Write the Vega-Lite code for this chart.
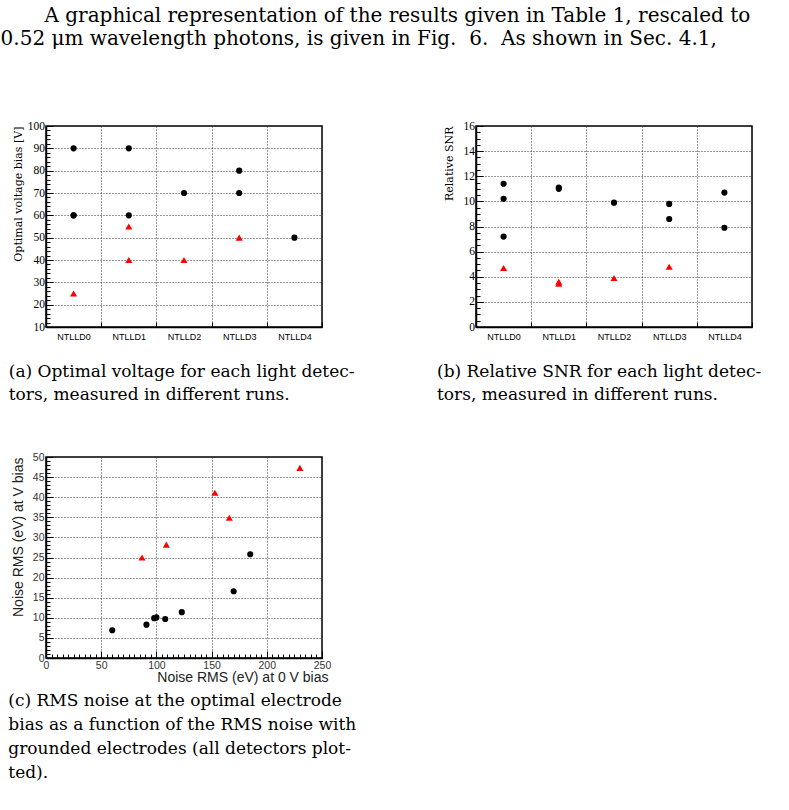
{
  "$schema": "https://vega.github.io/schema/vega-lite/v6.json",
  "background": "white",
  "padding": {"left": 0, "top": 5, "right": 0, "bottom": 0},
  "autosize": {"type": "pad"},
  "title": {
    "text": [
      "\u2800\u2800\u2800A graphical representation of the results given in Table 1, rescaled to",
      "0.52 \u03bcm wavelength photons, is given in Fig.\u00a0\u00a06.\u00a0\u00a0As shown in Sec. 4.1,"
    ],
    "anchor": "start",
    "frame": "bounds",
    "fontSize": 20,
    "lineHeight": 23.5,
    "offset": 70,
    "dx": -7
  },
  "columns": 2,
  "align": "each",
  "bounds": "full",
  "spacing": {"row": 47, "column": 78},
  "datasets": {
    "bias": [
      {"detector": "NTLLD0", "run": "run 1", "bias": 90},
      {"detector": "NTLLD0", "run": "run 1", "bias": 60},
      {"detector": "NTLLD0", "run": "run 1", "bias": 60},
      {"detector": "NTLLD0", "run": "run 2", "bias": 25},
      {"detector": "NTLLD1", "run": "run 1", "bias": 90},
      {"detector": "NTLLD1", "run": "run 1", "bias": 60},
      {"detector": "NTLLD1", "run": "run 2", "bias": 55},
      {"detector": "NTLLD1", "run": "run 2", "bias": 40},
      {"detector": "NTLLD2", "run": "run 1", "bias": 70},
      {"detector": "NTLLD2", "run": "run 2", "bias": 40},
      {"detector": "NTLLD3", "run": "run 1", "bias": 80},
      {"detector": "NTLLD3", "run": "run 1", "bias": 70},
      {"detector": "NTLLD3", "run": "run 2", "bias": 50},
      {"detector": "NTLLD4", "run": "run 1", "bias": 50}
    ],
    "snr": [
      {"detector": "NTLLD0", "run": "run 1", "snr": 11.4},
      {"detector": "NTLLD0", "run": "run 1", "snr": 10.2},
      {"detector": "NTLLD0", "run": "run 1", "snr": 7.2},
      {"detector": "NTLLD0", "run": "run 2", "snr": 4.7},
      {"detector": "NTLLD1", "run": "run 1", "snr": 11.0},
      {"detector": "NTLLD1", "run": "run 1", "snr": 11.1},
      {"detector": "NTLLD1", "run": "run 2", "snr": 3.6},
      {"detector": "NTLLD1", "run": "run 2", "snr": 3.45},
      {"detector": "NTLLD2", "run": "run 1", "snr": 9.9},
      {"detector": "NTLLD2", "run": "run 2", "snr": 3.9},
      {"detector": "NTLLD3", "run": "run 1", "snr": 9.8},
      {"detector": "NTLLD3", "run": "run 1", "snr": 8.6},
      {"detector": "NTLLD3", "run": "run 2", "snr": 4.8},
      {"detector": "NTLLD4", "run": "run 1", "snr": 10.7},
      {"detector": "NTLLD4", "run": "run 1", "snr": 7.9}
    ],
    "noise": [
      {"run": "run 1", "noise0": 60, "noiseV": 6.9},
      {"run": "run 1", "noise0": 91, "noiseV": 8.3},
      {"run": "run 1", "noise0": 98, "noiseV": 9.9},
      {"run": "run 1", "noise0": 100, "noiseV": 10.1},
      {"run": "run 1", "noise0": 108, "noiseV": 9.7},
      {"run": "run 1", "noise0": 123, "noiseV": 11.4},
      {"run": "run 1", "noise0": 170, "noiseV": 16.6},
      {"run": "run 1", "noise0": 185, "noiseV": 25.8},
      {"run": "run 2", "noise0": 87, "noiseV": 25.0},
      {"run": "run 2", "noise0": 109, "noiseV": 28.2},
      {"run": "run 2", "noise0": 153, "noiseV": 41.1},
      {"run": "run 2", "noise0": 166, "noiseV": 34.9},
      {"run": "run 2", "noise0": 230, "noiseV": 47.3}
    ]
  },
  "concat": [
    {
      "width": 276,
      "height": 201,
      "data": {"name": "bias"},
      "title": {
        "text": ["(a) Optimal voltage for each light detec-", "tors, measured in different runs."],
        "orient": "bottom", "anchor": "start", "frame": "bounds",
        "fontSize": 17, "lineHeight": 23, "offset": 23, "dx": -3.5
      },
      "layer": [
        {
          "mark": {"type": "point", "filled": true, "opacity": 1, "strokeWidth": 0},
          "encoding": {
            "x": {
              "field": "detector", "type": "nominal", "sort": null,
              "scale": {"type": "band", "paddingInner": 0, "paddingOuter": 0, "domain": ["NTLLD0", "NTLLD1", "NTLLD2", "NTLLD3", "NTLLD4"]},
              "axis": {"title": null, "tickBand": "extent", "labelFont": "Liberation Sans", "labelFontSize": 9, "labelColor": "black", "labelAngle": 0, "tickSize": -5, "labelPadding": 10, "grid": true}
            },
            "y": {
              "field": "bias", "type": "quantitative",
              "scale": {"domain": [10, 100], "nice": false, "zero": false},
              "axis": {
                "values": [10, 20, 30, 40, 50, 60, 70, 80, 90, 100],
                "title": "Optimal voltage bias [V]", "titleFont": "DejaVu Serif", "titleFontSize": 11, "titleFontWeight": "normal", "titleColor": "black", "titleAnchor": "end", "titlePadding": 4,
                "labelFont": "Liberation Serif", "labelFontSize": 11.5, "labelColor": "black", "tickSize": -7, "labelPadding": 8.5, "grid": true
              }
            },
            "shape": {"field": "run", "type": "nominal", "scale": {"domain": ["run 1", "run 2"], "range": ["circle", "triangle-up"]}, "legend": null},
            "color": {"field": "run", "type": "nominal", "scale": {"domain": ["run 1", "run 2"], "range": ["#000000", "#ff0000"]}, "legend": null},
            "size": {"field": "run", "type": "nominal", "scale": {"domain": ["run 1", "run 2"], "range": [38, 50]}, "legend": null}
          }
        },
        {
          "mark": {"type": "point", "opacity": 0},
          "encoding": {
            "y": {
              "field": "bias", "type": "quantitative",
              "scale": {"domain": [10, 100], "nice": false, "zero": false},
              "axis": {"orient": "left", "values": [12, 14, 16, 18, 22, 24, 26, 28, 32, 34, 36, 38, 42, 44, 46, 48, 52, 54, 56, 58, 62, 64, 66, 68, 72, 74, 76, 78, 82, 84, 86, 88, 92, 94, 96, 98], "labels": false, "grid": false, "domain": false, "title": null, "tickSize": -4}
            }
          }
        }
      ],
      "resolve": {"axis": {"y": "independent"}}
    },
    {
      "width": 276,
      "height": 201,
      "data": {"name": "snr"},
      "title": {
        "text": ["(b) Relative SNR for each light detec-", "tors, measured in different runs."],
        "orient": "bottom", "anchor": "start", "frame": "bounds",
        "fontSize": 17, "lineHeight": 23, "offset": 23, "dx": -6
      },
      "layer": [
        {
          "mark": {"type": "point", "filled": true, "opacity": 1, "strokeWidth": 0},
          "encoding": {
            "x": {
              "field": "detector", "type": "nominal", "sort": null,
              "scale": {"type": "band", "paddingInner": 0, "paddingOuter": 0, "domain": ["NTLLD0", "NTLLD1", "NTLLD2", "NTLLD3", "NTLLD4"]},
              "axis": {"title": null, "tickBand": "extent", "labelFont": "Liberation Sans", "labelFontSize": 9, "labelColor": "black", "labelAngle": 0, "tickSize": -5, "labelPadding": 10, "grid": true}
            },
            "y": {
              "field": "snr", "type": "quantitative",
              "scale": {"domain": [0, 16], "nice": false},
              "axis": {
                "values": [0, 2, 4, 6, 8, 10, 12, 14, 16],
                "title": "Relative SNR", "titleFont": "DejaVu Serif", "titleFontSize": 11, "titleFontWeight": "normal", "titleColor": "black", "titleAnchor": "end", "titlePadding": 9,
                "labelFont": "Liberation Serif", "labelFontSize": 11.5, "labelColor": "black", "tickSize": -7, "labelPadding": 8.5, "grid": true
              }
            },
            "shape": {"field": "run", "type": "nominal", "scale": {"domain": ["run 1", "run 2"], "range": ["circle", "triangle-up"]}, "legend": null},
            "color": {"field": "run", "type": "nominal", "scale": {"domain": ["run 1", "run 2"], "range": ["#000000", "#ff0000"]}, "legend": null},
            "size": {"field": "run", "type": "nominal", "scale": {"domain": ["run 1", "run 2"], "range": [38, 50]}, "legend": null}
          }
        },
        {
          "mark": {"type": "point", "opacity": 0},
          "encoding": {
            "y": {
              "field": "snr", "type": "quantitative",
              "scale": {"domain": [0, 16], "nice": false},
              "axis": {"orient": "left", "values": [0.5, 1, 1.5, 2.5, 3, 3.5, 4.5, 5, 5.5, 6.5, 7, 7.5, 8.5, 9, 9.5, 10.5, 11, 11.5, 12.5, 13, 13.5, 14.5, 15, 15.5], "labels": false, "grid": false, "domain": false, "title": null, "tickSize": -4}
            }
          }
        }
      ],
      "resolve": {"axis": {"y": "independent"}}
    },
    {
      "width": 276,
      "height": 201,
      "data": {"name": "noise"},
      "title": {
        "text": ["(c) RMS noise at the optimal electrode", "bias as a function of the RMS noise with", "grounded electrodes (all detectors plot-", "ted)."],
        "orient": "bottom", "anchor": "start", "frame": "bounds",
        "fontSize": 17, "lineHeight": 24, "offset": 8, "dx": -3
      },
      "layer": [
        {
          "mark": {"type": "point", "filled": true, "opacity": 1, "strokeWidth": 0},
          "encoding": {
            "x": {
              "field": "noise0", "type": "quantitative",
              "scale": {"domain": [0, 250], "nice": false},
              "axis": {
                "values": [0, 50, 100, 150, 200, 250],
                "title": "Noise RMS (eV) at 0 V bias", "titleFont": "Liberation Sans", "titleFontSize": 14, "titleFontWeight": "normal", "titleColor": "#222", "titleAnchor": "end", "titleAlign": "right", "titleX": 282, "titlePadding": 0,
                "labelFont": "Liberation Sans", "labelFontSize": 10.5, "labelColor": "#333", "tickSize": -7, "labelPadding": 9, "grid": true
              }
            },
            "y": {
              "field": "noiseV", "type": "quantitative",
              "scale": {"domain": [0, 50], "nice": false},
              "axis": {
                "values": [0, 5, 10, 15, 20, 25, 30, 35, 40, 45, 50],
                "title": "Noise RMS (eV) at V bias", "titleFont": "Liberation Sans", "titleFontSize": 14, "titleFontWeight": "normal", "titleColor": "#222", "titleAnchor": "end", "titlePadding": 7,
                "labelFont": "Liberation Sans", "labelFontSize": 10.5, "labelColor": "#333", "tickSize": -7, "labelPadding": 9, "grid": true
              }
            },
            "shape": {"field": "run", "type": "nominal", "scale": {"domain": ["run 1", "run 2"], "range": ["circle", "triangle-up"]}, "legend": null},
            "color": {"field": "run", "type": "nominal", "scale": {"domain": ["run 1", "run 2"], "range": ["#000000", "#ff0000"]}, "legend": null},
            "size": {"field": "run", "type": "nominal", "scale": {"domain": ["run 1", "run 2"], "range": [38, 50]}, "legend": null}
          }
        },
        {
          "mark": {"type": "point", "opacity": 0},
          "encoding": {
            "x": {
              "field": "noise0", "type": "quantitative",
              "scale": {"domain": [0, 250], "nice": false},
              "axis": {"orient": "bottom", "values": [5, 10, 15, 20, 25, 30, 35, 40, 45, 55, 60, 65, 70, 75, 80, 85, 90, 95, 105, 110, 115, 120, 125, 130, 135, 140, 145, 155, 160, 165, 170, 175, 180, 185, 190, 195, 205, 210, 215, 220, 225, 230, 235, 240, 245], "labels": false, "grid": false, "domain": false, "title": null, "tickSize": -4}
            },
            "y": {
              "field": "noiseV", "type": "quantitative",
              "scale": {"domain": [0, 50], "nice": false},
              "axis": {"orient": "left", "values": [1, 2, 3, 4, 6, 7, 8, 9, 11, 12, 13, 14, 16, 17, 18, 19, 21, 22, 23, 24, 26, 27, 28, 29, 31, 32, 33, 34, 36, 37, 38, 39, 41, 42, 43, 44, 46, 47, 48, 49], "labels": false, "grid": false, "domain": false, "title": null, "tickSize": -4}
            }
          }
        }
      ],
      "resolve": {"axis": {"x": "independent", "y": "independent"}}
    }
  ],
  "config": {
    "view": {"stroke": "black", "strokeWidth": 1.5},
    "axis": {
      "domainColor": "black", "domainWidth": 1.5,
      "tickColor": "black", "tickWidth": 1,
      "gridColor": "#333", "gridDash": [1, 2], "gridWidth": 1,
      "labelOverlap": false, "labelFlush": false, "labelBound": false
    },
    "title": {"font": "DejaVu Serif", "fontWeight": "normal", "color": "black"}
  }
}
